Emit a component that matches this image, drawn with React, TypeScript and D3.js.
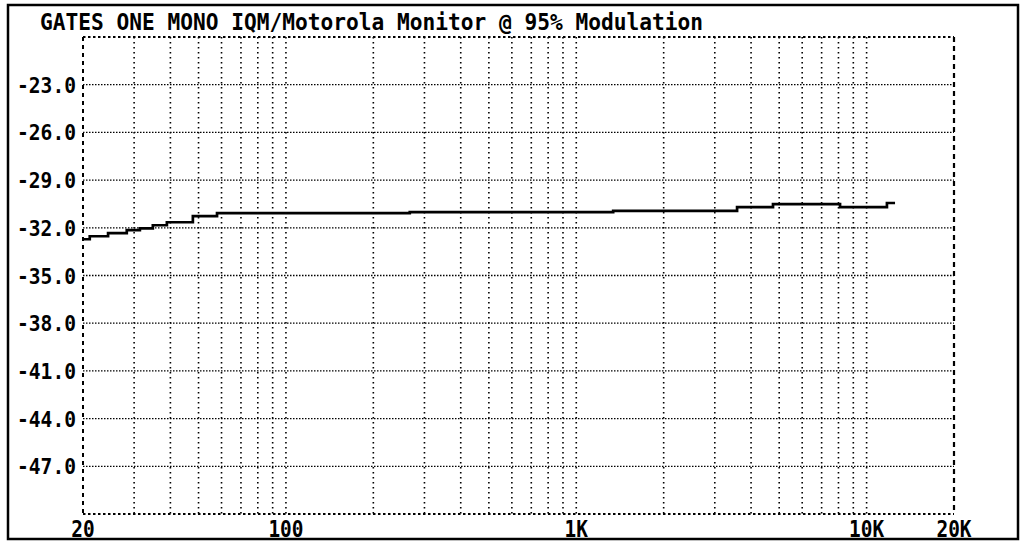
import * as d3 from "d3"
import React, { useRef, useEffect } from "react"

const freqs = [20, 21.1, 24.4, 28.3, 31.4, 34.8, 38.9, 47.8, 57.9, 267, 1340, 3580, 4760, 8100, 11750, 12530]
const levels = [-32.72, -32.53, -32.34, -32.15, -32.03, -31.84, -31.65, -31.27, -31.08, -31.01, -30.93, -30.70, -30.51, -30.70, -30.44, -30.44]

const yTicks = [-23, -26, -29, -32, -35, -38, -41, -44, -47]
const xGrid = [30, 40, 50, 60, 70, 80, 90, 100, 200, 300, 400, 500, 600, 700, 800, 900,
    1000, 2000, 3000, 4000, 5000, 6000, 7000, 8000, 9000, 10000]
const xLabels = [
    { f: 20, label: "20" },
    { f: 100, label: "100" },
    { f: 1000, label: "1K" },
    { f: 10000, label: "10K" },
    { f: 20000, label: "20K" },
]
const title = "GATES ONE MONO IQM/Motorola Monitor @ 95% Modulation"

const W = 1023
const H = 542
const FONT = "'DejaVu Sans Mono', monospace"

function App() {
    const ref = useRef<SVGSVGElement>(null)

    useEffect(() => {
        const svg = d3.select(ref.current)
        svg.selectAll("*").remove()

        const x = d3.scaleLog().domain([20, 20000]).range([83, 954])
        const y = d3.scaleLinear().domain([-50, -20]).range([514, 37])

        // outer frame
        svg.append("rect")
            .attr("x", 8).attr("y", 5)
            .attr("width", 1010).attr("height", 534)
            .attr("fill", "white")
            .attr("stroke", "black")
            .attr("stroke-width", 2.5)

        // title
        svg.append("text")
            .attr("x", 40).attr("y", 30)
            .attr("font-family", FONT)
            .attr("font-weight", "bold")
            .attr("font-size", 22.5)
            .attr("textLength", 663)
            .attr("lengthAdjust", "spacingAndGlyphs")
            .text(title)

        const [x0, x1] = x.range()
        const [yb, yt] = y.range()

        // horizontal grid
        svg.append("g").selectAll("line")
            .data(yTicks)
            .enter().append("line")
            .attr("x1", x0).attr("x2", x1)
            .attr("y1", d => y(d)).attr("y2", d => y(d))
            .attr("stroke", "black")
            .attr("stroke-width", 1.3)
            .attr("stroke-dasharray", "1.5,1.5")

        // vertical grid
        svg.append("g").selectAll("line")
            .data(xGrid)
            .enter().append("line")
            .attr("x1", d => x(d)).attr("x2", d => x(d))
            .attr("y1", yt).attr("y2", yb)
            .attr("stroke", "black")
            .attr("stroke-width", 1.6)
            .attr("stroke-dasharray", "1.5,3.5")

        // plot border
        const border = svg.append("g").attr("stroke", "black").attr("fill", "none")
        border.append("line")
            .attr("x1", x0).attr("x2", x1).attr("y1", yt).attr("y2", yt)
            .attr("stroke-width", 2).attr("stroke-dasharray", "2.5,2.5")
        border.append("line")
            .attr("x1", x0).attr("x2", x1).attr("y1", yb).attr("y2", yb)
            .attr("stroke-width", 2).attr("stroke-dasharray", "2.5,2.5")
        border.append("line")
            .attr("x1", x0).attr("x2", x0).attr("y1", yt).attr("y2", yb)
            .attr("stroke-width", 2).attr("stroke-dasharray", "4,4")
        border.append("line")
            .attr("x1", x1).attr("x2", x1).attr("y1", yt).attr("y2", yb)
            .attr("stroke-width", 2.2).attr("stroke-dasharray", "5,4")

        // y labels
        svg.append("g").selectAll("text")
            .data(yTicks)
            .enter().append("text")
            .attr("x", 76)
            .attr("y", d => y(d) + 8)
            .attr("text-anchor", "end")
            .attr("font-family", FONT)
            .attr("font-weight", "bold")
            .attr("font-size", 21.5)
            .attr("textLength", 59)
            .attr("lengthAdjust", "spacingAndGlyphs")
            .text(d => d.toFixed(1))

        // x labels
        svg.append("g").selectAll("text")
            .data(xLabels)
            .enter().append("text")
            .attr("x", d => x(d.f))
            .attr("y", 537)
            .attr("text-anchor", "middle")
            .attr("font-family", FONT)
            .attr("font-weight", "bold")
            .attr("font-size", 23)
            .attr("textLength", d => d.label.length * 11.7)
            .attr("lengthAdjust", "spacingAndGlyphs")
            .text(d => d.label)

        // response trace
        const pts = freqs.map((f, i) => [f, levels[i]] as [number, number])
        const line = d3.line<[number, number]>()
            .x(d => x(d[0]))
            .y(d => y(d[1]))
            .curve(d3.curveStepAfter)
        svg.append("path")
            .datum(pts)
            .attr("d", line)
            .attr("fill", "none")
            .attr("stroke", "black")
            .attr("stroke-width", 2.7)
    }, [])

    return (
        <div style={{ position: "absolute", left: 0, top: 0 }}>
            <svg ref={ref} width={W} height={H} style={{ display: "block", background: "white" }}>
            </svg>
        </div>
    )
}

export default App
